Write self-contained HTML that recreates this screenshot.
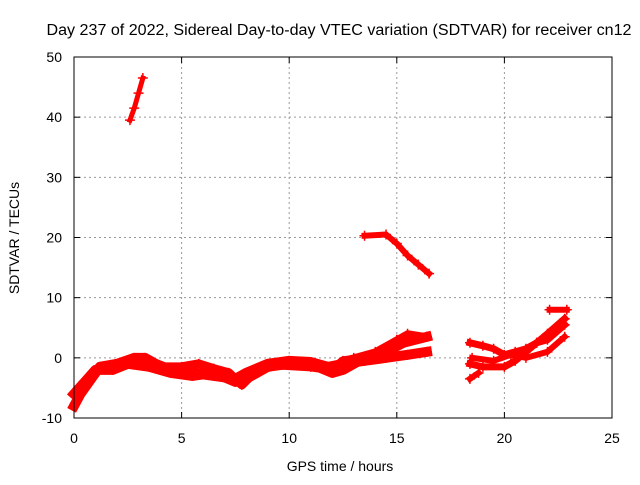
<!DOCTYPE html>
<html><head><meta charset="utf-8"><style>
body{margin:0;background:#fff}
svg{font-family:"Liberation Sans",sans-serif;font-size:14px}
</style></head><body>
<svg id="c" width="640" height="480" viewBox="0 0 640 480">
<text x="339" y="35" text-anchor="middle" font-size="15.5" textLength="585" lengthAdjust="spacingAndGlyphs">Day 237 of 2022, Sidereal Day-to-day VTEC variation (SDTVAR) for receiver cn12</text>
<text x="340" y="471" text-anchor="middle">GPS time / hours</text>
<text transform="translate(19,238) rotate(-90)" text-anchor="middle">SDTVAR / TECUs</text>
<g id="grid"></g><g id="data"></g>
<rect x="74" y="57" width="538" height="361" fill="none" stroke="#000" stroke-width="1"/>
<g id="ticks"></g>
</svg>
<script>
const xTicks=[0,5,10,15,20,25];
const yTicks=[-10,0,10,20,30,40,50];
const trackA=[[0,-8],[0.3,-6],[0.8,-3.5],[1.2,-1.5],[2,-1],[2.8,0],[3.3,0],[3.8,-1],[4.5,-2],[5.5,-2.5],[6.5,-3],[7.5,-3.5],[8,-2.5],[9,-1],[10,-0.5],[11,-0.7],[11.8,-1.5],[12.5,-1],[13.5,-0.5],[14.5,0],[15.5,0.5],[16.4,1]];
const trackB=[[0,-6],[0.5,-4],[1,-2],[1.8,-2],[2.5,-1],[3.5,-1.5],[4.5,-2.5],[5.5,-3],[6.5,-2.5],[7.5,-4],[8,-3.5],[9,-1.5],[10,-1],[11,-1],[12,-2.5],[12.5,-2],[13.5,0],[14.5,1],[15.3,2.5],[16.4,3.5]];
const trackK=[[3.5,-0.5],[4,-1.5],[5,-1.5],[5.8,-1],[6.5,-1.8],[7.2,-2.5],[7.8,-4.5],[8.5,-2],[9.5,-1.2],[11,-1.5],[12,-2],[12.5,-0.5],[13.5,0]];
const trackC=[[13,0],[14,1],[15,3],[15.5,4],[16.4,3.5]];
const trackD=[[13.5,20.3],[14.5,20.5],[15,19],[15.5,17],[16,15.5],[16.5,14]];
const trackE=[[2.6,39.5],[2.8,41.5],[3,44],[3.2,46.5]];
const trackF=[[18.4,2.5],[19,2],[19.5,1.5],[20,0.5],[20.5,1],[21,1.5],[21.5,2.5],[22,3],[22.8,5.5]];
const trackG=[[18.4,-1],[19,-1.5],[20,-1.5],[20.5,-0.5],[21,1],[21.5,2.5],[22,4],[22.8,6.5]];
const trackH=[[18.5,0],[19.5,-0.5],[20.3,0.5],[21,0],[22,1],[22.8,3.5]];
const trackI=[[22.1,8],[22.9,8]];
const trackJ=[[18.4,-3.5],[18.8,-2.5]];
const tracks=[trackA,trackB,trackK,trackC,trackD,trackE,trackF,trackG,trackH,trackI,trackJ];
const widths=[10,10,9,7,6,5,7,7,6,6,6];
const NS="http://www.w3.org/2000/svg";
const X=v=>74+v/25*538, Y=v=>418-(v+10)/60*361;
const grid=document.getElementById('grid'),tk=document.getElementById('ticks'),dg=document.getElementById('data');
function mk(tag,at,p){const e=document.createElementNS(NS,tag);for(const k in at)e.setAttribute(k,at[k]);p.appendChild(e);return e;}
xTicks.forEach(t=>{
 if(t>0&&t<25){const g=mk('line',{x1:X(t),x2:X(t),y1:57,y2:418,stroke:'#999','stroke-dasharray':'2,3'},grid);
 
 }
 mk('line',{x1:X(t),x2:X(t),y1:418,y2:412,stroke:'#000'},tk);
 mk('line',{x1:X(t),x2:X(t),y1:57,y2:63,stroke:'#000'},tk);
 const l=mk('text',{x:X(t),y:443,'text-anchor':'middle'},tk);l.textContent=t;
 
 
});
yTicks.forEach(t=>{
 if(t>-10&&t<50){const g=mk('line',{x1:74,x2:612,y1:Y(t),y2:Y(t),stroke:'#999','stroke-dasharray':'2,3'},grid);
 
 }
 mk('line',{x1:74,x2:80,y1:Y(t),y2:Y(t),stroke:'#000'},tk);
 mk('line',{x1:612,x2:606,y1:Y(t),y2:Y(t),stroke:'#000'},tk);
 const l=mk('text',{x:62,y:Y(t)+5,'text-anchor':'end'},tk);l.textContent=t;
 
 
});
tracks.forEach((tr,i)=>{
 const p=mk('polyline',{points:tr.map(d=>X(d[0])+','+Y(d[1])).join(' '),fill:'none',stroke:'#f00','stroke-width':widths[i],'stroke-linejoin':'round','stroke-linecap':'square'},dg);
 
 
 tr.forEach(d=>{const m=mk('path',{d:`M${X(d[0])-5},${Y(d[1])}h10M${X(d[0])},${Y(d[1])-5}v10`,stroke:'#f00','stroke-width':1.5},dg);
 
 });
});
</script>
</body></html>
